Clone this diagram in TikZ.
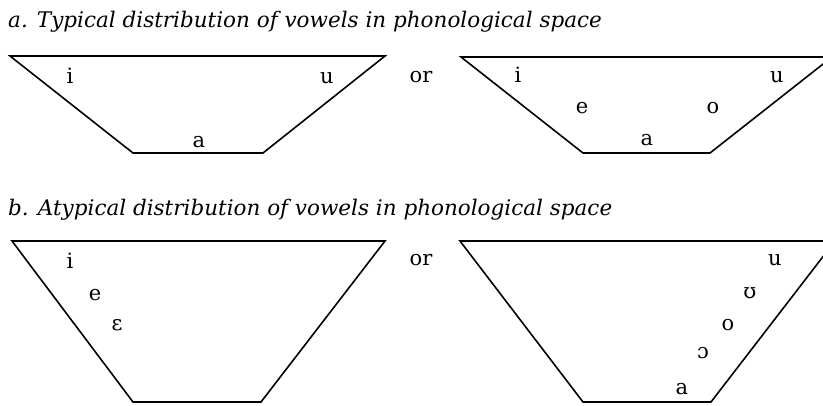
\documentclass[tikz,border=0pt]{standalone}
\usepackage{fontspec}
\setmainfont{DejaVu Serif}
\usetikzlibrary{positioning}
\tikzset{
    caption/.style={anchor=base west, inner sep=0pt, font=\fontsize{21.5}{21.5}\selectfont\itshape},
    vowel/.style={anchor=base, inner sep=0pt, font=\fontsize{21}{21}\selectfont},
    space/.style={line width=1.6pt, line join=miter}
}

\begin{document}
\begin{tikzpicture}[x=1pt, y=-1pt]
    \useasboundingbox (0,0) rectangle (823,405);
    \clip (0,0) rectangle (823,405);

    % a. Typical distribution
    \node[caption] (capA) at (8,27) {a. Typical distribution of vowels in phonological space};

    \draw[space] (10,56) -- (133,153) -- (263,153) -- (385,56) -- cycle;
    \node[vowel] (aI) at (70,83) {i};
    \node[vowel] (aU) at (327,83) {u};
    \node[vowel] (aA) at (199,147) {a};

    \node[vowel] (orA) at (421,82) {or};

    \draw[space] (461,57) -- (583,153) -- (710,153) -- (832,57) -- cycle;
    \node[vowel] (aI2) at (518,82) {i};
    \node[vowel] (aU2) at (777,82) {u};
    \node[vowel] (aE2) at (582,113) {e};
    \node[vowel] (aO2) at (713,113) {o};
    \node[vowel] (aA2) at (647,145) {a};

    % b. Atypical distribution
    \node[caption] (capB) at (8,215) {b. Atypical distribution of vowels in phonological space};

    \draw[space] (12,241) -- (133,402) -- (261,402) -- (385,241) -- cycle;
    \node[vowel] (bI) at (70,268) {i};
    \node[vowel] (bE) at (95,300) {e};
    \node[vowel] (bEps) at (117,330) {ɛ};

    \node[vowel] (orB) at (421,265) {or};

    \draw[space] (460,241) -- (583,402) -- (711,402) -- (835,241) -- cycle;
    \node[vowel] (bU) at (775,265) {u};
    \node[vowel] (bUps) at (750,298) {ʊ};
    \node[vowel] (bO) at (728,330) {o};
    \node[vowel] (bOpen) at (703,358) {ɔ};
    \node[vowel] (bA) at (682,394) {a};
\end{tikzpicture}
\end{document}
